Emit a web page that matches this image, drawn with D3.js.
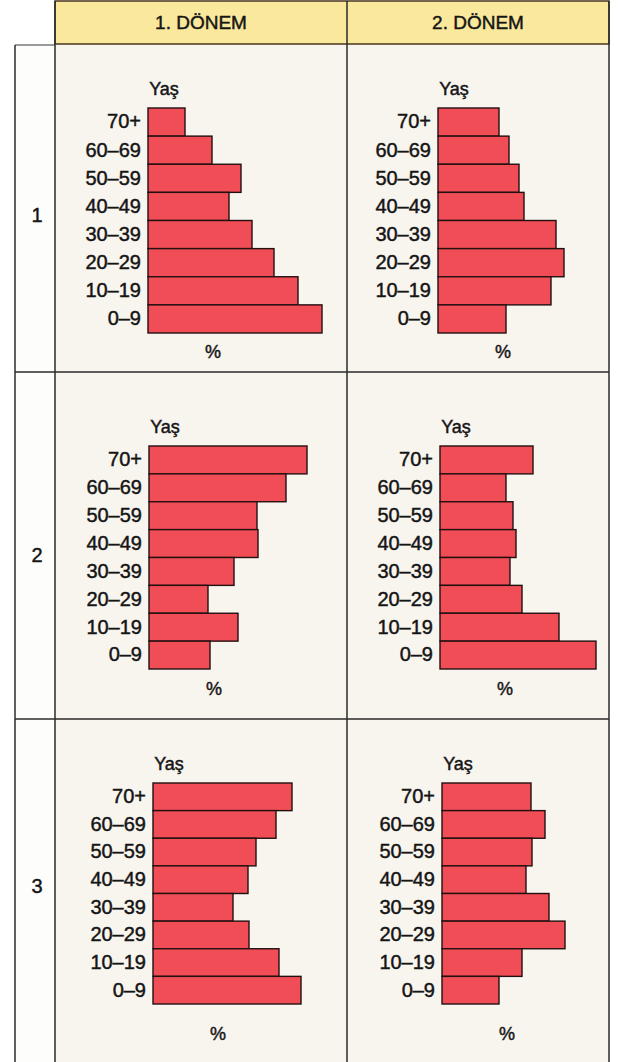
<!DOCTYPE html>
<html>
<head>
<meta charset="utf-8">
<script src="https://cdn.jsdelivr.net/npm/d3@7"></script>
<style>
  body { margin: 0; background: #fff; }
  text { font-family: "Liberation Sans", Arial, sans-serif; fill: #151515; stroke: #151515; stroke-width: 0.45px; }
</style>
</head>
<body>
<svg id="chart" width="622" height="1062"></svg>
<script>
// age groups, top to bottom
const ages = ['70+', '60–69', '50–59', '40–49', '30–39', '20–29', '10–19', '0–9'];
const periods = ['1. DÖNEM', '2. DÖNEM'];
const rowLabels = ['1', '2', '3'];

// share of each age group (%), 70+ first
const row1Period1 = [3.7, 6.4, 9.3, 8.1, 10.4, 12.6, 15.0, 17.4];
const row1Period2 = [6.1, 7.1, 8.1, 8.6, 11.8, 12.6, 11.3, 6.8];
const row2Period1 = [15.8, 13.7, 10.8, 10.9, 8.5, 5.9, 8.9, 6.1];
const row2Period2 = [9.3, 6.6, 7.3, 7.6, 7.0, 8.2, 11.9, 15.6];
const row3Period1 = [13.9, 12.3, 10.3, 9.5, 8.0, 9.6, 12.6, 14.8];
const row3Period2 = [8.9, 10.3, 9.0, 8.4, 10.7, 12.3, 8.0, 5.7];

const panels = [
  [row1Period1, row1Period2],
  [row2Period1, row2Period2],
  [row3Period1, row3Period2]
];

const svg = d3.select('#chart');
const W = 622, H = 1062;

// table grid
const outerLeft = 15, labelRight = 55, midX = 347, outerRight = 609;
const headerTop = 1, headerBottom = 44;
const rowY = [headerBottom, 372, 719, H];

// cell backgrounds
svg.append('rect').attr('x', labelRight).attr('y', headerBottom)
  .attr('width', outerRight - labelRight).attr('height', H - headerBottom)
  .attr('fill', '#f8f4ee');
svg.append('rect').attr('x', outerLeft).attr('y', headerBottom)
  .attr('width', labelRight - outerLeft).attr('height', H - headerBottom)
  .attr('fill', '#fdfdfc');

// header
svg.append('rect').attr('x', labelRight).attr('y', headerTop)
  .attr('width', outerRight - labelRight).attr('height', headerBottom - headerTop)
  .attr('fill', '#fae89c').attr('stroke', '#4a3420').attr('stroke-width', 1.5);

const headerCenters = [(labelRight + midX) / 2, (midX + outerRight) / 2];
svg.selectAll('.head').data(periods).join('text')
  .attr('class', 'head')
  .attr('x', (d, i) => headerCenters[i])
  .attr('y', 29)
  .attr('text-anchor', 'middle')
  .style('font-size', '19px')
  .text(d => d);

// grid lines
const lineColor = '#2b2b2b';
const grid = svg.append('g').attr('stroke', lineColor).attr('stroke-width', 1.5);
grid.append('line').attr('x1', outerLeft).attr('x2', labelRight).attr('y1', headerBottom + 1).attr('y2', headerBottom + 1).attr('stroke', '#777');
grid.append('line').attr('x1', outerLeft).attr('x2', outerLeft).attr('y1', headerBottom + 1).attr('y2', H);
grid.append('line').attr('x1', labelRight).attr('x2', labelRight).attr('y1', headerTop).attr('y2', H);
grid.append('line').attr('x1', midX).attr('x2', midX).attr('y1', headerTop).attr('y2', H);
grid.append('line').attr('x1', outerRight).attr('x2', outerRight).attr('y1', headerTop).attr('y2', H);
[rowY[1], rowY[2]].forEach(y => {
  grid.append('line').attr('x1', outerLeft).attr('x2', outerRight).attr('y1', y).attr('y2', y);
});

// row numbers
svg.selectAll('.rowlab').data(rowLabels).join('text')
  .attr('class', 'rowlab')
  .attr('x', 37)
  .attr('y', (d, i) => [222, 562, 893][i])
  .attr('text-anchor', 'middle')
  .style('font-size', '20px')
  .text(d => d);

// panel placement
const barLeft = [[148, 438], [149, 440], [153, 442]];
const barTop = [108, 446, 783];
const barBottom = [333, 669, 1004];
const pctGap = [19, 20, 30];

const x = d3.scaleLinear().domain([0, 10]).range([0, 100]);

panels.forEach((row, r) => {
  row.forEach((values, c) => {
    const left = barLeft[r][c];
    const y = d3.scaleBand().domain(ages).range([barTop[r], barBottom[r]]).padding(0);
    const g = svg.append('g');

    g.selectAll('rect').data(values).join('rect')
      .attr('x', left)
      .attr('y', (d, i) => y(ages[i]))
      .attr('width', d => x(d))
      .attr('height', y.bandwidth())
      .attr('fill', '#f14d56')
      .attr('stroke', '#221010')
      .attr('stroke-width', 1.4);

    const axis = g.append('g')
      .attr('transform', `translate(${left},0)`)
      .call(d3.axisLeft(y).tickSize(0).tickPadding(7));
    axis.select('.domain').remove();
    axis.selectAll('text')
      .style('font-size', '20px')
      .style('font-family', '"Liberation Sans", Arial, sans-serif')
      .attr('fill', '#151515');

    g.append('text')
      .attr('x', left + 16)
      .attr('y', barTop[r] - 13)
      .attr('text-anchor', 'middle')
      .style('font-size', '18px')
      .text('Yaş');

    g.append('text')
      .attr('x', left + 65)
      .attr('y', barBottom[r] + pctGap[r] + 6)
      .attr('text-anchor', 'middle')
      .style('font-size', '18px')
      .text('%');
  });
});
</script>
</body>
</html>
